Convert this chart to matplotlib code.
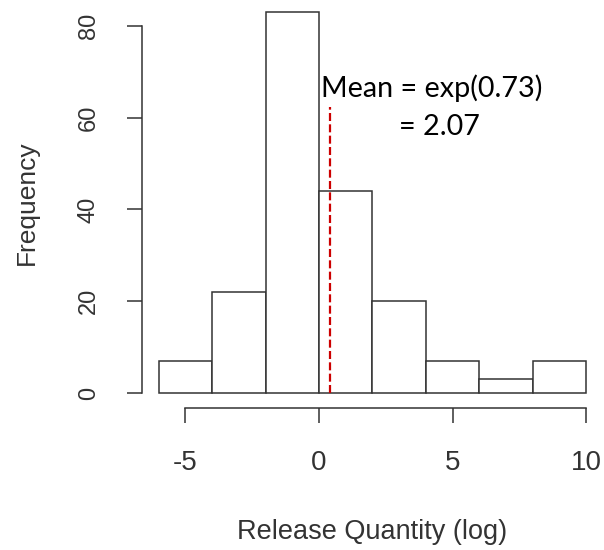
import numpy as np
import matplotlib.pyplot as plt

# histogram bins (log release quantity) and counts
bin_edges = [-6, -4, -2, 0, 2, 4, 6, 8, 10]
counts = [7, 22, 83, 44, 20, 7, 3, 7]
mean_x = 0.42
mean_top = 62.3
xticks = [-5, 0, 5, 10]
yticks = [0, 20, 40, 60, 80]

plt.rcParams['font.family'] = 'Liberation Sans'
plt.rcParams['axes.unicode_minus'] = False

fig = plt.figure(figsize=(6.04, 5.5), dpi=100)
ax = fig.add_axes([0.2343, 0.2578, 0.7647, 0.748])

lefts = np.array(bin_edges[:-1])
widths = np.diff(bin_edges)
ax.bar(lefts, counts, width=widths, align='edge', color='white',
       edgecolor='#333333', linewidth=1.1)

ax.plot([mean_x, mean_x], [0, mean_top], color='#cc0000', linewidth=1.6,
        dashes=(3.6, 1.5))

ax.text(0.08, 64.5, 'Mean = exp(0.73)', fontsize=20.7, family='Lato',
        va='baseline', ha='left')
ax.text(3.0, 56.2, '= 2.07', fontsize=20.7, family='Lato',
        va='baseline', ha='left')

ax.set_xlim(-6.64, 10.64)
ax.set_ylim(-3.32, 86.32)
ax.set_xticks(xticks)
ax.set_yticks(yticks)
ax.set_yticklabels([str(v) for v in yticks], rotation=90, va='center')

for side in ['top', 'right']:
    ax.spines[side].set_visible(False)
ax.spines['left'].set_bounds(0, 80)
ax.spines['bottom'].set_bounds(-5, 10)
for side in ['left', 'bottom']:
    ax.spines[side].set_color('#333333')
    ax.spines[side].set_linewidth(1.1)

ax.tick_params(axis='both', length=11, width=1.1, color='#333333',
               labelcolor='#333333')
ax.tick_params(axis='x', labelsize=20, pad=19)
ax.tick_params(axis='y', labelsize=17, pad=19)

ax.set_xlabel('Release Quantity (log)', fontsize=19.5, color='#333333',
              labelpad=31)
ax.set_ylabel('Frequency', fontsize=19, color='#333333', labelpad=28)

fig.savefig('out.png', dpi=100)
